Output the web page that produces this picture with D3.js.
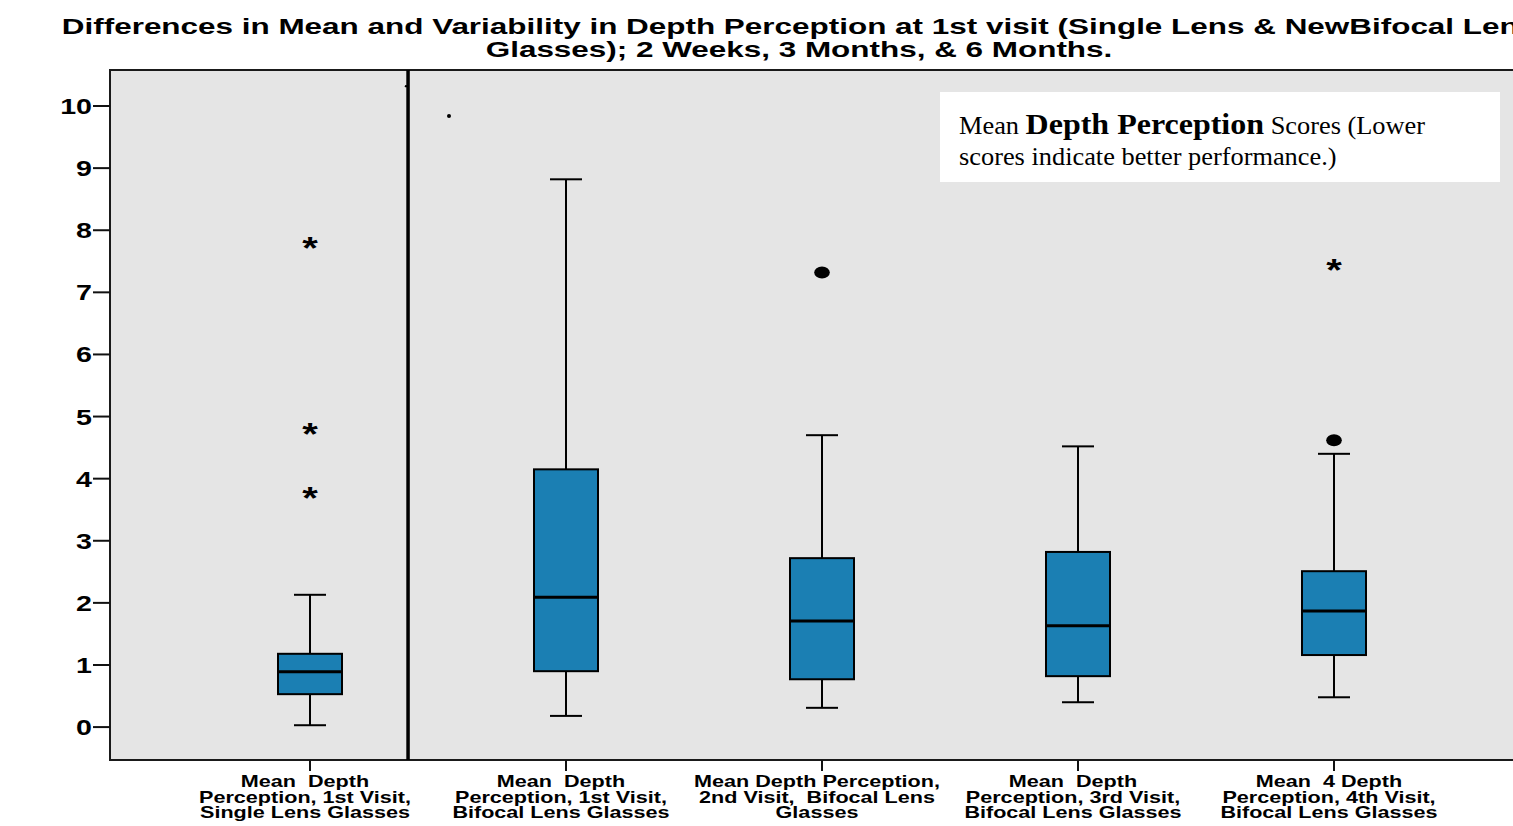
<!DOCTYPE html>
<html>
<head>
<meta charset="utf-8">
<script src="https://cdn.jsdelivr.net/npm/d3@7"></script>
<style>
  html, body { margin: 0; padding: 0; background: #fff; overflow: hidden; }
  svg { display: block; }
  text { white-space: pre; }
</style>
</head>
<body>
<svg id="chart" width="1513" height="826"></svg>
<script>
// ---------------- DATA ----------------
const titleLines = [
  "Differences in Mean and Variability in Depth Perception at 1st visit (Single Lens & NewBifocal Lens",
  "Glasses); 2 Weeks, 3 Months, & 6 Months."
];
const categories = [
  ["Mean  Depth", "Perception, 1st Visit,", "Single Lens Glasses"],
  ["Mean  Depth", "Perception, 1st Visit,", "Bifocal Lens Glasses"],
  ["Mean Depth Perception,", "2nd Visit,  Bifocal Lens", "Glasses"],
  ["Mean  Depth", "Perception, 3rd Visit,", "Bifocal Lens Glasses"],
  ["Mean  4 Depth", "Perception, 4th Visit,", "Bifocal Lens Glasses"]
];
const whiskerLow  = [0.03, 0.18, 0.31, 0.40, 0.48];
const q1          = [0.53, 0.90, 0.77, 0.82, 1.16];
const median      = [0.89, 2.09, 1.71, 1.63, 1.87];
const q3          = [1.18, 4.15, 2.72, 2.82, 2.51];
const whiskerHigh = [2.13, 8.82, 4.70, 4.52, 4.40];
// outliers: [categoryIndex, value]
const circleOutliers = [[2, 7.32], [4, 4.62]];
const starOutliers   = [[0, 7.76], [0, 4.76], [0, 3.74], [4, 7.41]];
// small stray dots in the original (fractional category position, value)
const strayDots = [[0.543, 9.84], [0.375, 10.32]];
const yTicks = [0, 1, 2, 3, 4, 5, 6, 7, 8, 9, 10];
const legendParts = [
  ["Mean ", "normal"], ["Depth Perception", "bold"], [" Scores (Lower", "normal"]
];
const legendLine2 = "scores indicate better performance.)";

// ---------------- LAYOUT ----------------
const svg = d3.select("#chart");
const plot = { left: 110, top: 70, right: 1522, bottom: 760 };
const y = d3.scaleLinear().domain([-0.53, 10.58]).range([plot.bottom, plot.top]);
const x = d3.scaleLinear().domain([0, 4]).range([310, 1334]);
const dividerPos = 0.383;
const boxW = 64, capW = 32;
const boxFill = "#1b7fb3";
const sansStack = "'Liberation Sans', Arial, Helvetica, sans-serif";
const serifStack = "'Liberation Serif', 'Times New Roman', serif";

// plot background
svg.append("rect")
  .attr("x", plot.left).attr("y", plot.top)
  .attr("width", plot.right - plot.left).attr("height", plot.bottom - plot.top)
  .attr("fill", "#e5e5e5").attr("stroke", "#1a1a1a").attr("stroke-width", 2);

// divider
svg.append("line")
  .attr("x1", x(dividerPos)).attr("x2", x(dividerPos))
  .attr("y1", plot.top).attr("y2", plot.bottom)
  .attr("stroke", "#000").attr("stroke-width", 3.5);

// y axis ticks and labels
const yg = svg.append("g");
yTicks.forEach(t => {
  yg.append("line").attr("x1", plot.left - 17).attr("x2", plot.left)
    .attr("y1", y(t)).attr("y2", y(t)).attr("stroke", "#111").attr("stroke-width", 2);
  yg.append("text")
    .attr("transform", `translate(${plot.left - 18},${y(t) + 8}) scale(1.3,1)`)
    .attr("text-anchor", "end")
    .attr("font-family", sansStack).attr("font-weight", "bold").attr("font-size", 22)
    .attr("fill", "#000").text(t);
});

// x axis ticks and labels
const xg = svg.append("g");
categories.forEach((lines, i) => {
  xg.append("line").attr("x1", x(i)).attr("x2", x(i))
    .attr("y1", plot.bottom).attr("y2", plot.bottom + 11)
    .attr("stroke", "#111").attr("stroke-width", 2);
  lines.forEach((ln, j) => {
    xg.append("text")
      .attr("transform", `translate(${x(i) - 5},${787 + j * 15.5}) scale(1.35,1)`)
      .attr("text-anchor", "middle")
      .attr("font-family", sansStack).attr("font-weight", "bold").attr("font-size", 16)
      .attr("fill", "#000").text(ln);
  });
});

// boxes
const bg = svg.append("g");
categories.forEach((c, i) => {
  const cx = x(i);
  bg.append("line").attr("x1", cx).attr("x2", cx)
    .attr("y1", y(whiskerHigh[i])).attr("y2", y(q3[i]))
    .attr("stroke", "#000").attr("stroke-width", 2);
  bg.append("line").attr("x1", cx).attr("x2", cx)
    .attr("y1", y(q1[i])).attr("y2", y(whiskerLow[i]))
    .attr("stroke", "#000").attr("stroke-width", 2);
  [whiskerHigh[i], whiskerLow[i]].forEach(v => {
    bg.append("line").attr("x1", cx - capW / 2).attr("x2", cx + capW / 2)
      .attr("y1", y(v)).attr("y2", y(v))
      .attr("stroke", "#000").attr("stroke-width", 2);
  });
  bg.append("rect")
    .attr("x", cx - boxW / 2).attr("y", y(q3[i]))
    .attr("width", boxW).attr("height", y(q1[i]) - y(q3[i]))
    .attr("fill", boxFill).attr("stroke", "#000").attr("stroke-width", 2);
  bg.append("line").attr("x1", cx - boxW / 2).attr("x2", cx + boxW / 2)
    .attr("y1", y(median[i])).attr("y2", y(median[i]))
    .attr("stroke", "#000").attr("stroke-width", 3);
});

// outliers
circleOutliers.forEach(([i, v]) => {
  bg.append("ellipse").attr("cx", x(i)).attr("cy", y(v))
    .attr("rx", 7.8).attr("ry", 6).attr("fill", "#000");
});
starOutliers.forEach(([i, v]) => {
  bg.append("text")
    .attr("transform", `translate(${x(i)},${y(v) + 14}) scale(1.25,1)`)
    .attr("text-anchor", "middle")
    .attr("font-family", sansStack).attr("font-weight", "bold").attr("font-size", 32)
    .attr("fill", "#000").text("*");
});
strayDots.forEach(([p, v], k) => {
  bg.append("circle").attr("cx", x(p)).attr("cy", y(v))
    .attr("r", k === 0 ? 2 : 1.2).attr("fill", "#000");
});

// legend box
const lg = svg.append("g");
lg.append("rect").attr("x", 940).attr("y", 92).attr("width", 560).attr("height", 90)
  .attr("fill", "#fff");
const l1 = lg.append("text")
  .attr("transform", "translate(959,134) scale(1.085,1)")
  .attr("font-family", serifStack).attr("fill", "#000");
legendParts.forEach(([t, w]) => {
  l1.append("tspan").attr("font-weight", w)
    .attr("font-size", w === "bold" ? 29.5 : 24.3).text(t);
});
lg.append("text")
  .attr("transform", "translate(959,165) scale(1.085,1)")
  .attr("font-family", serifStack).attr("font-size", 24.3).attr("fill", "#000")
  .text(legendLine2);

// title
titleLines.forEach((t, j) => {
  svg.append("text")
    .attr("transform", `translate(799,${34 + j * 23}) scale(1.43,1)`)
    .attr("text-anchor", "middle")
    .attr("font-family", sansStack).attr("font-weight", "bold").attr("font-size", 22)
    .attr("fill", "#000").text(t);
});
</script>
</body>
</html>
